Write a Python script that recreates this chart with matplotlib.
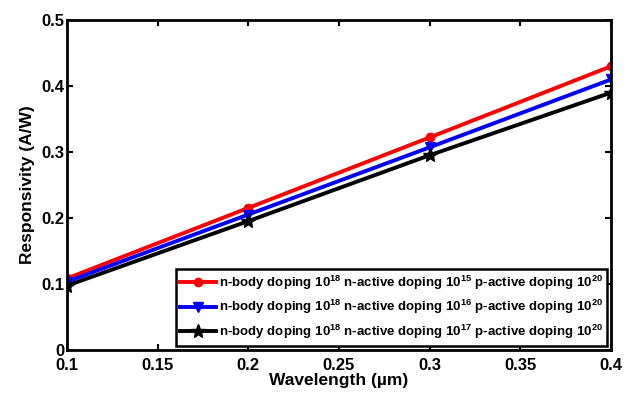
import matplotlib
matplotlib.use("Agg")
import matplotlib.pyplot as plt

# Daten
wavelength = [0.1, 0.2, 0.3, 0.4]
resp_n15 = [0.108, 0.215, 0.322, 0.430]
resp_n16 = [0.103, 0.205, 0.307, 0.410]
resp_n17 = [0.097, 0.195, 0.295, 0.390]
labels = [
    r'n-body doping 10$^{18}$ n-active doping 10$^{15}$ p-active doping 10$^{20}$',
    r'n-body doping 10$^{18}$ n-active doping 10$^{16}$ p-active doping 10$^{20}$',
    r'n-body doping 10$^{18}$ n-active doping 10$^{17}$ p-active doping 10$^{20}$',
]
xticks = [0.1, 0.15, 0.2, 0.25, 0.3, 0.35, 0.4]
yticks = [0, 0.1, 0.2, 0.3, 0.4, 0.5]

plt.rcParams['font.family'] = ['Liberation Sans', 'DejaVu Sans']
plt.rcParams['font.weight'] = 'bold'
plt.rcParams['mathtext.fontset'] = 'custom'
plt.rcParams['mathtext.rm'] = 'Liberation Sans:bold'
plt.rcParams['mathtext.bf'] = 'Liberation Sans:bold'

fig = plt.figure(figsize=(6.36, 4.01), dpi=100)
ax = fig.add_axes([0.105, 0.128, 0.856, 0.822])

ax.plot(wavelength, resp_n15, 'r-o', lw=2.8, ms=6, label=labels[0])
ax.plot(wavelength, resp_n16, 'b-v', lw=2.8, ms=7, label=labels[1])
ax.plot(wavelength, resp_n17, 'k-*', lw=2.8, ms=10, label=labels[2])

ax.set_xlim(0.1, 0.4)
ax.set_ylim(0, 0.5)
ax.set_xticks(xticks)
ax.set_xticklabels([f'{t:g}' for t in xticks])
ax.set_yticks(yticks)
ax.set_yticklabels([f'{t:g}' for t in yticks])
ax.tick_params(direction='in', length=4, width=1.5, labelsize=12, top=True, right=True)
ax.tick_params(axis='x', pad=6)
ax.tick_params(axis='y', pad=2)
for s in ax.spines.values():
    s.set_linewidth(2)

ax.set_xlabel('Wavelength (µm)', fontsize=12.5, fontweight='bold', labelpad=0)
ax.set_ylabel('Responsivity (A/W)', fontsize=12.5, fontweight='bold', labelpad=4)

leg = ax.legend(loc='lower right', fontsize=9.5, fancybox=False, edgecolor='black',
                framealpha=1, borderaxespad=0.3, handlelength=2.7, handletextpad=0.2,
                labelspacing=0.5, borderpad=0.35)
leg.get_frame().set_linewidth(1.8)

fig.savefig('out.png', dpi=100)
